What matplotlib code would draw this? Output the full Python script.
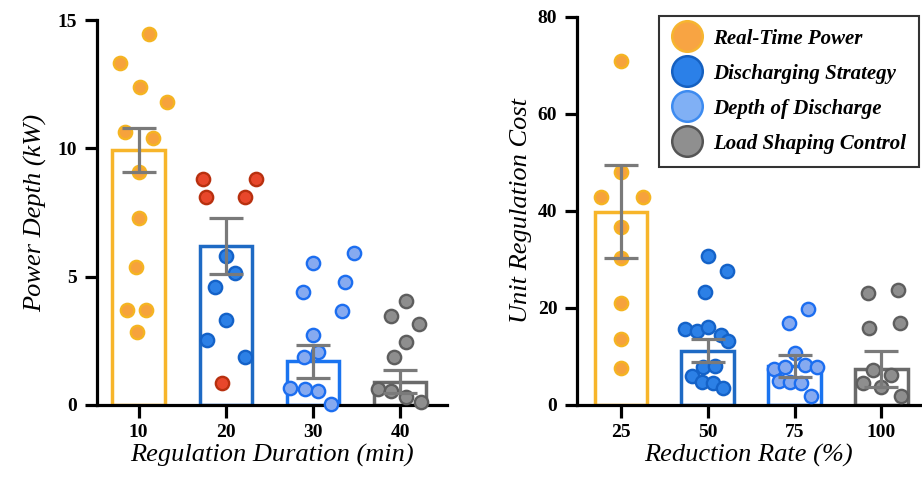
import numpy as np
import matplotlib
matplotlib.use("Agg")
import matplotlib.pyplot as plt
from matplotlib.lines import Line2D

plt.rcParams['font.family'] = ['Liberation Serif', 'DejaVu Serif']

# ---- left panel: Power Depth vs Regulation Duration ----
dur_labels = ['10', '20', '30', '40']
dur_mean = [9.95, 6.2, 1.7, 0.9]
dur_err = [0.86, 1.1, 0.65, 0.45]

d10_vals = [14.44, 13.31, 12.40, 11.79, 10.62, 10.39, 9.09, 7.27, 5.36, 3.70, 3.70, 2.83]
d10_jit = [0.12, -0.21, 0.01, 0.33, -0.16, 0.17, 0.0, 0.0, -0.03, -0.13, 0.08, -0.02]
d20_red_vals = [8.79, 8.79, 8.12, 8.12, 0.84]
d20_red_jit = [-0.26, 0.35, -0.23, 0.22, -0.04]
d20_blue_vals = [5.80, 5.15, 4.61, 3.29, 2.51, 1.86]
d20_blue_jit = [0.0, 0.11, -0.12, 0.0, -0.22, 0.22]
d30_vals = [5.52, 5.93, 4.41, 4.80, 3.64, 2.73, 1.86, 2.08, 0.65, 0.60, 0.55, 0.04]
d30_jit = [0.0, 0.47, -0.11, 0.37, 0.33, 0.0, -0.10, 0.06, -0.26, -0.09, 0.06, 0.21]
d40_vals = [4.06, 3.47, 3.16, 2.47, 1.86, 0.61, 0.55, 0.32, 0.13]
d40_jit = [0.07, -0.10, 0.22, 0.07, -0.07, -0.25, -0.10, 0.07, 0.24]

# ---- right panel: Unit Regulation Cost vs Reduction Rate ----
rate_labels = ['25', '50', '75', '100']
rate_mean = [39.8, 11.2, 8.0, 7.4]
rate_err = [9.6, 2.3, 2.2, 3.8]

r25_vals = [70.9, 47.9, 42.9, 42.9, 36.7, 30.2, 20.9, 13.5, 7.7]
r25_jit = [0.0, 0.0, -0.22, 0.26, 0.0, 0.0, 0.0, 0.0, 0.0]
r50_vals = [30.7, 27.5, 23.3, 15.6, 15.3, 16.0, 14.4, 13.2, 7.9, 8.0, 6.0, 4.8, 4.5, 3.4]
r50_jit = [0.01, 0.22, -0.03, -0.26, -0.12, 0.01, 0.15, 0.24, -0.05, 0.09, -0.18, -0.06, 0.06, 0.18]
r75_vals = [19.7, 16.8, 10.6, 7.35, 7.8, 8.2, 7.8, 5.0, 4.8, 4.5, 1.85]
r75_jit = [0.16, -0.06, 0.01, -0.24, -0.11, 0.12, 0.26, -0.18, -0.05, 0.07, 0.19]
r100_vals = [23.1, 23.7, 15.8, 16.8, 7.2, 6.2, 4.5, 3.6, 1.85]
r100_jit = [-0.15, 0.19, -0.14, 0.21, -0.10, 0.11, -0.21, 0.0, 0.22]

legend_labels = ['Real-Time Power', 'Discharging Strategy', 'Depth of Discharge', 'Load Shaping Control']

# styles
bar_cols = ['#F7B52A', '#1E6AC4', '#1A74F0', '#6A6A6A']
orange = ('#F6A23C', '#F5B422')
red = ('#E8472B', '#B8300F')
dblue = ('#2C80E6', '#1462C8')
lblue = ('#86AAF0', '#1C6EF0')
gray = ('#8E8E8E', '#5E5E5E')
err_col = '#7A7A7A'


def style_axis(ax):
    for s in ['top', 'right']:
        ax.spines[s].set_visible(False)
    for s in ['left', 'bottom']:
        ax.spines[s].set_linewidth(2.3)
        ax.spines[s].set_color('black')
    ax.tick_params(axis='both', width=2.3, length=9, color='black', labelsize=14, pad=5)
    for lab in ax.get_xticklabels() + ax.get_yticklabels():
        lab.set_fontweight('bold')


def dots(ax, i, vals, jit, col):
    ax.scatter(i + np.array(jit), vals, s=92, facecolor=col[0], edgecolor=col[1],
               linewidth=1.7, zorder=3, clip_on=False)


def bars(ax, means, errs):
    x = np.arange(len(means))
    ax.bar(x, means, width=0.6, facecolor='none', edgecolor=bar_cols, linewidth=2.5, zorder=2)
    ax.errorbar(x, means, yerr=errs, fmt='none', ecolor=err_col, elinewidth=2.3,
                capsize=12, capthick=2.3, zorder=4)


fig = plt.figure(figsize=(9.22, 4.78), dpi=100)

ax1 = fig.add_axes([0.105, 0.153, 0.380, 0.805])
bars(ax1, dur_mean, dur_err)
dots(ax1, 0, d10_vals, d10_jit, orange)
dots(ax1, 1, d20_red_vals, d20_red_jit, red)
dots(ax1, 1, d20_blue_vals, d20_blue_jit, dblue)
dots(ax1, 2, d30_vals, d30_jit, lblue)
dots(ax1, 3, d40_vals, d40_jit, gray)
ax1.set_xlim(-0.48, 3.54)
ax1.set_ylim(0, 15)
ax1.set_yticks([0, 5, 10, 15])
ax1.set_xticks(range(4))
ax1.set_xticklabels(dur_labels)
style_axis(ax1)
ax1.set_ylabel('Power Depth (kW)', fontsize=19, style='italic', labelpad=8)
ax1.set_xlabel('Regulation Duration (min)', fontsize=19, style='italic', labelpad=2)

ax2 = fig.add_axes([0.6255, 0.153, 0.373, 0.812])
bars(ax2, rate_mean, rate_err)
dots(ax2, 0, r25_vals, r25_jit, orange)
dots(ax2, 1, r50_vals, r50_jit, dblue)
dots(ax2, 2, r75_vals, r75_jit, lblue)
dots(ax2, 3, r100_vals, r100_jit, gray)
ax2.set_xlim(-0.505, 3.45)
ax2.set_ylim(0, 80)
ax2.set_yticks([0, 20, 40, 60, 80])
ax2.set_xticks(range(4))
ax2.set_xticklabels(rate_labels)
style_axis(ax2)
ax2.set_ylabel('Unit Regulation Cost', fontsize=19, style='italic', labelpad=4)
ax2.set_xlabel('Reduction Rate (%)', fontsize=19, style='italic', labelpad=2)

leg_cols = [('#F8A443', '#F6B530'), ('#2B80E8', '#1560C0'),
            ('#80B0F5', '#3D8BF0'), ('#8F8F8F', '#555555')]
handles = [Line2D([], [], linestyle='none', marker='o', markersize=22,
                  markerfacecolor=c[0], markeredgecolor=c[1], markeredgewidth=1.8)
           for c in leg_cols]
leg = ax2.legend(handles, legend_labels, loc='upper left', bbox_to_anchor=(0.715, 0.967),
                 bbox_transform=fig.transFigure, borderaxespad=0, fancybox=False,
                 frameon=True, edgecolor='black', handlelength=1.4, handletextpad=0.55,
                 labelspacing=0.72, borderpad=0.62,
                 prop={'family': 'Liberation Serif', 'weight': 'bold', 'style': 'italic', 'size': 15})
leg.get_frame().set_linewidth(1.5)
leg.set_zorder(10)

fig.savefig('out.png', dpi=100)
